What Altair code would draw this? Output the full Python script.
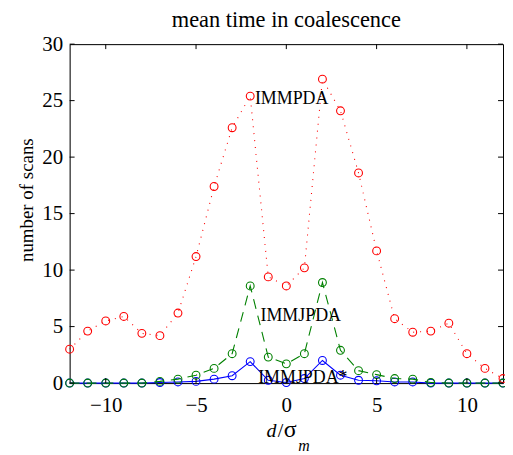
import altair as alt
import pandas as pd

# ---- data ----
x_vals = list(range(-12, 13))
immpda = [3.0, 4.6, 5.5, 5.9, 4.4, 4.2, 6.2, 11.2, 17.4, 22.6, 25.4, 9.4, 8.6,
          10.2, 26.9, 24.1, 18.6, 11.7, 5.7, 4.5, 4.6, 5.3, 2.6, 1.3, 0.4]
immjpda = [0, 0, 0, 0, 0, 0.15, 0.35, 0.7, 1.3, 2.6, 8.6, 2.3, 1.7,
           2.6, 8.9, 2.9, 1.1, 0.75, 0.4, 0.35, 0.05, 0, 0, 0, 0]
immjipda = [0, 0, 0, 0, 0, 0.05, 0.1, 0.15, 0.35, 0.65, 1.9, 0.25, 0.05,
            0.4, 2.0, 0.7, 0.25, 0.2, 0.1, 0.1, 0, 0, 0, 0, 0]

label_text = ["IMMPDA", "IMMJPDA", "IMMJPDA*"]
label_x = [-1.74, -1.43, -1.56]
label_y = [24.7, 5.5, 0.05]

x_ticks = [-10, -5, 0, 5, 10]
y_ticks = [0, 5, 10, 15, 20, 25, 30]

title_text = "mean time in coalescence"
ylabel_text = "number of scans"

df = pd.DataFrame({"x": x_vals, "red": immpda, "green": immjpda, "blue": immjipda})
lab = pd.DataFrame({"label": label_text, "x": label_x, "y": label_y})
xt = pd.DataFrame({"v": x_ticks})
yt = pd.DataFrame({"v": y_ticks})

FONT = "Liberation Serif"
W, H = 436, 341
TICK = 5

xscale = alt.Scale(domain=[-12, 12], nice=False, zero=False)
yscale = alt.Scale(domain=[0, 30], nice=False, zero=True)

minus_expr = ("datum.value < 0 ? '\u2212' + format(-datum.value, 'd') + '\u2002' "
              ": format(datum.value, 'd')")

ax_x_main = alt.Axis(orient="bottom", values=x_ticks, labelExpr=minus_expr,
                     labelFont=FONT, labelFontSize=21, labelColor="black",
                     labelPadding=12, ticks=False, tickSize=0, domain=True,
                     domainColor="black", domainWidth=1, grid=False, title=None)
ax_y_main = alt.Axis(orient="left", values=y_ticks, labelFont=FONT,
                     labelFontSize=21, labelColor="black", labelPadding=7,
                     ticks=False, tickSize=0, domain=True, domainColor="black",
                     domainWidth=1, grid=False, title=None)
# frame on the top and right sides, drawn as axis domains only
ax_x_top = alt.Axis(orient="top", values=x_ticks, labels=False, ticks=False,
                    tickSize=0, domain=True, domainColor="black", domainWidth=1,
                    grid=False, title=None)
ax_y_right = alt.Axis(orient="right", values=y_ticks, labels=False, ticks=False,
                      tickSize=0, domain=True, domainColor="black",
                      domainWidth=1, grid=False, title=None)

base = alt.Chart(df)


def series(col, color, dash, xaxis, yaxis):
    line_kw = dict(color=color, strokeWidth=1.1)
    if dash:
        line_kw["strokeDash"] = dash
    ln = base.mark_line(**line_kw).encode(
        x=alt.X("x:Q", scale=xscale, axis=xaxis),
        y=alt.Y(f"{col}:Q", scale=yscale, axis=yaxis),
    )
    pt = base.mark_point(shape="circle", filled=False, size=62, strokeWidth=1.1,
                         color=color, opacity=1).encode(
        x=alt.X("x:Q", scale=xscale, axis=None),
        y=alt.Y(f"{col}:Q", scale=yscale, axis=None),
    )
    return ln, pt


b_ln, b_pt = series("blue", "#0000ff", None, ax_x_main, ax_y_main)
g_ln, g_pt = series("green", "#008000", [10, 7], ax_x_top, ax_y_right)
r_ln, r_pt = series("red", "#ff0000", [1, 6], None, None)

# inward tick marks on all four sides, positioned by the shared scales
tick_style = dict(color="black", strokeWidth=1)
xt_bottom = alt.Chart(xt).mark_rule(**tick_style).encode(
    x=alt.X("v:Q", scale=xscale, axis=None), y=alt.value(H - TICK), y2=alt.value(H))
xt_top = alt.Chart(xt).mark_rule(**tick_style).encode(
    x=alt.X("v:Q", scale=xscale, axis=None), y=alt.value(0), y2=alt.value(TICK))
yt_left = alt.Chart(yt).mark_rule(**tick_style).encode(
    y=alt.Y("v:Q", scale=yscale, axis=None), x=alt.value(0), x2=alt.value(TICK))
yt_right = alt.Chart(yt).mark_rule(**tick_style).encode(
    y=alt.Y("v:Q", scale=yscale, axis=None), x=alt.value(W - TICK), x2=alt.value(W))

labels = alt.Chart(lab).mark_text(align="left", baseline="alphabetic", font=FONT,
                                  fontSize=18, color="black").encode(
    x=alt.X("x:Q", scale=xscale, axis=None),
    y=alt.Y("y:Q", scale=yscale, axis=None),
    text="label:N",
)


def free_text(txt, x, y, size, style="normal", angle=0, align="left"):
    kw = dict(font=FONT, fontSize=size, fontStyle=style, color="black",
              baseline="alphabetic", align=align)
    if angle:
        kw["angle"] = angle
    return alt.Chart(pd.DataFrame({"t": [txt]})).mark_text(**kw).encode(
        text="t:N", x=alt.value(x), y=alt.value(y))


title = free_text(title_text, 218, -17, 22.5, align="center")
ylab = free_text(ylabel_text, -37, 157, 19, angle=270, align="center")
xl_d = free_text("d", 198, 395, 20, style="italic")
xl_slash = free_text("/", 209.5, 395, 20)
xl_sigma = free_text("\u03c3", 215.5, 395, 24)
xl_m = free_text("m", 230, 409, 16, style="italic")

chart = alt.layer(
    b_ln, b_pt, g_ln, g_pt, r_ln, r_pt, labels,
    xt_bottom, xt_top, yt_left, yt_right,
    title, ylab, xl_d, xl_slash, xl_sigma, xl_m,
).resolve_axis(x="independent", y="independent").properties(
    width=W, height=H,
    autosize=alt.AutoSizeParams(type="none"),
    padding={"left": 62, "top": 35, "right": 2, "bottom": 70},
).configure_view(stroke="black", strokeWidth=1).configure(background="white")

chart.save("out.html", embed_options={"renderer": "svg", "actions": False})
